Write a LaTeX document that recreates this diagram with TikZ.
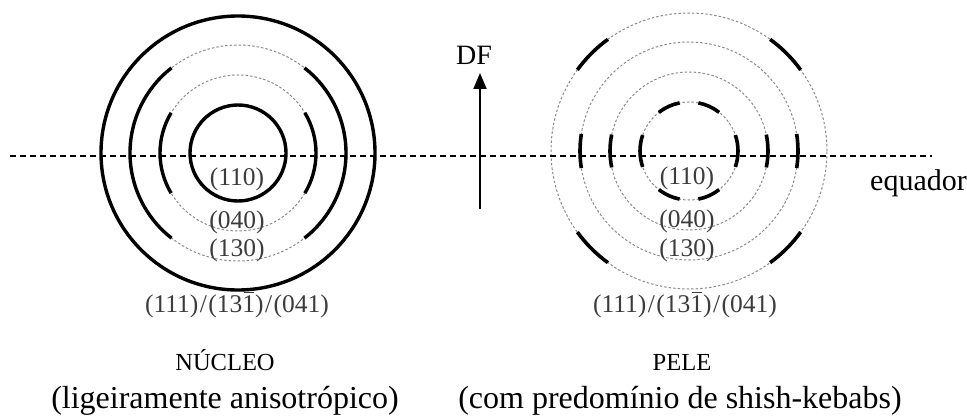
\documentclass[tikz,border=0pt]{standalone}
\usepackage{fontspec}
\setmainfont{Liberation Serif}
\usetikzlibrary{arrows.meta}
\definecolor{ringgray}{RGB}{140,140,140}
\definecolor{labelgray}{RGB}{60,60,60}
\newcommand{\barone}{\rlap{\kern0.06em\rule[0.76em]{0.38em}{0.06em}}1}

\begin{document}
\begin{tikzpicture}[x=1pt, y=1pt,
  >={Triangle[length=16pt,width=13pt]},
  ring/.style={ringgray, line width=1pt, dash pattern=on 2.5pt off 2pt},
  solidring/.style={line width=3.4pt},
  kebab/.style={line width=3.6pt},
  eq/.style={line width=1.1pt, dash pattern=on 6pt off 4pt},
  lbl/.style={text=labelgray, font=\fontsize{25.5}{25}\selectfont, inner sep=0pt},
  caption/.style={font=\fontsize{32}{32}\selectfont, inner sep=0pt, anchor=base},
  title/.style={font=\fontsize{24.5}{24}\selectfont, inner sep=0pt, anchor=base}]
\useasboundingbox (0,0) rectangle (967,416);

% nucleo: rings with wide arcs
\coordinate (nuc) at (238,263);
\draw[ring] (nuc) circle[radius=108];
\draw[ring] (nuc) circle[radius=78];
\draw[solidring] (nuc) circle[radius=137];
\draw[solidring] (nuc) circle[radius=48];
\foreach \a in {0,180}{
  \draw[solidring] (nuc) ++(\a-52:108) arc[start angle=\a-52, end angle=\a+52, radius=108];
  \draw[solidring] (nuc) ++(\a-31:78) arc[start angle=\a-31, end angle=\a+31, radius=78];
}

% pele: dotted rings with short arcs
\coordinate (pel) at (689,265);
\foreach \r in {49,79,109,138}
  \draw[ring] (pel) circle[radius=\r];
\foreach \r/\h in {49/19,79/12,109/9}
  \foreach \a in {0,180}
    \draw[kebab] (pel) ++(\a-\h:\r) arc[start angle=\a-\h, end angle=\a+\h, radius=\r];
\foreach \a in {45,135,225,315}
  \draw[kebab] (pel) ++(\a-9:138) arc[start angle=\a-9, end angle=\a+9, radius=138];
\foreach \a in {65.5,114.5,245.5,294.5}
  \draw[kebab] (pel) ++(\a-13.5:49) arc[start angle=\a-13.5, end angle=\a+13.5, radius=49];

% reflection labels
\node[lbl] (nuc110) at (237,237) {(110)};
\node[lbl] (nuc040) at (237,194) {(040)};
\node[lbl] (nuc130) at (237,166) {(130)};
\node[lbl] (nuc111) at (237,111) {(111)\kern1.5pt/\kern1.5pt(13\barone)\kern1.5pt/\kern1.5pt(041)};
\node[lbl] (pel110) at (687,238) {(110)};
\node[lbl] (pel040) at (687,195) {(040)};
\node[lbl] (pel130) at (687,166) {(130)};
\node[lbl] (pel111) at (685,111) {(111)\kern1.5pt/\kern1.5pt(13\barone)\kern1.5pt/\kern1.5pt(041)};

% equator and flow direction
\coordinate (eqL) at (10,260);
\coordinate (eqR) at (932,260);
\draw[eq] (eqL) -- (eqR);
\node[font=\fontsize{30}{30}\selectfont, inner sep=0pt, anchor=base west] (equador) at (870,226) {equador};
\coordinate (dfB) at (480,207);
\coordinate (dfT) at (480,343);
\draw[->, line width=2pt] (dfB) -- (dfT);
\node[font=\fontsize{28}{28}\selectfont, inner sep=0pt, anchor=base] (df) at (474,351) {DF};

% captions
\node[title] (nucleo) at (225,46) {NÚCLEO};
\node[caption] (nucleoTxt) at (225,8) {(ligeiramente anisotrópico)};
\node[title] (pele) at (682,46) {PELE};
\node[caption] (peleTxt) at (680,8) {(com predomínio de shish-kebabs)};
\end{tikzpicture}
\end{document}
